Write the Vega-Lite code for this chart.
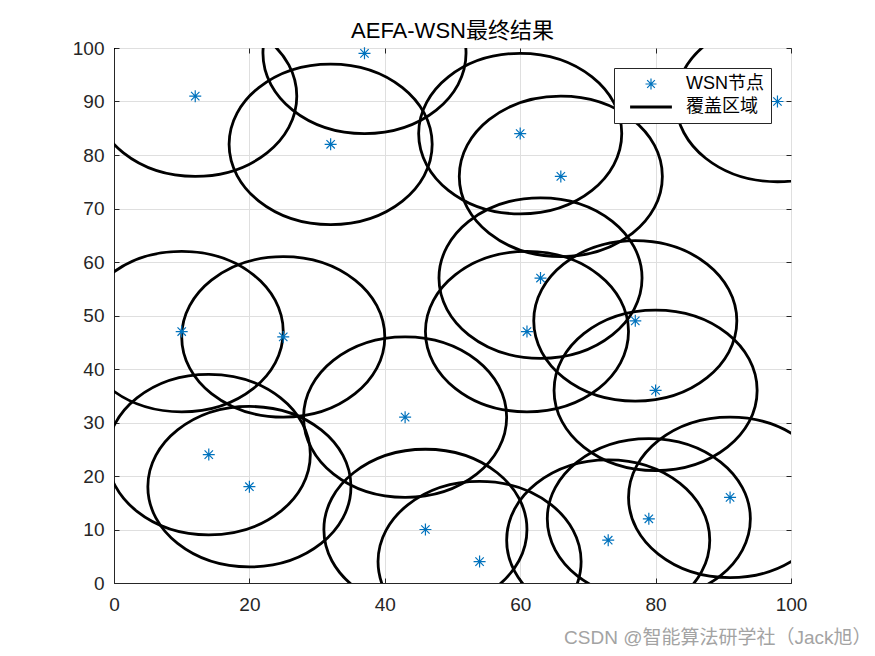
{
  "$schema": "https://vega.github.io/schema/vega-lite/v6.json",
  "autosize": {"type": "none"},
  "padding": {"left": 114, "top": 48, "right": 84, "bottom": 73},
  "width": 677,
  "height": 535,
  "background": "white",
  "title": {
    "text": "AEFA-WSN最终结果",
    "font": "Liberation Sans, Noto Sans CJK SC",
    "fontSize": 22,
    "fontWeight": "normal",
    "color": "#000000",
    "frame": "group",
    "anchor": "middle",
    "baseline": "alphabetic",
    "offset": 10,
    "dy": 31
  },
  "data": {
    "values": [
      {"x": 12, "y": 91}, {"x": 37, "y": 99}, {"x": 32, "y": 82}, {"x": 60, "y": 84},
      {"x": 66, "y": 76}, {"x": 98, "y": 90}, {"x": 10, "y": 47}, {"x": 25, "y": 46},
      {"x": 63, "y": 57}, {"x": 61, "y": 47}, {"x": 77, "y": 49}, {"x": 80, "y": 36},
      {"x": 43, "y": 31}, {"x": 14, "y": 24}, {"x": 20, "y": 18}, {"x": 46, "y": 10},
      {"x": 54, "y": 4}, {"x": 73, "y": 8}, {"x": 79, "y": 12}, {"x": 91, "y": 16}
    ]
  },
  "layer": [
    {
      "mark": {
        "type": "point",
        "shape": "M -1 0 A 1 0.7903 0 1 1 1 0 A 1 0.7903 0 1 1 -1 0 Z",
        "size": 41244,
        "filled": false,
        "strokeWidth": 2.8,
        "opacity": 1,
        "clip": true
      },
      "encoding": {
        "x": {
          "field": "x", "type": "quantitative",
          "scale": {"domain": [0, 100], "nice": false, "zero": false},
          "axis": {
            "values": [0, 20, 40, 60, 80, 100],
            "grid": true,
            "tickSize": -5,
            "labelPadding": 17,
            "labelFlush": false,
            "labelOverlap": false,
            "title": "CSDN @智能算法研学社（Jack旭）",
            "titleX": 757,
            "titleY": 54,
            "titleAlign": "right",
            "titleBaseline": "middle",
            "titleColor": "#a3a3a3",
            "titleFontSize": 19,
            "titleFontWeight": "normal",
            "titleFont": "Liberation Sans, Noto Sans CJK SC"
          }
        },
        "y": {
          "field": "y", "type": "quantitative",
          "scale": {"domain": [0, 100], "nice": false, "zero": false},
          "axis": {
            "values": [0, 10, 20, 30, 40, 50, 60, 70, 80, 90, 100],
            "grid": true,
            "tickSize": -5,
            "labelPadding": 15,
            "labelFlush": false,
            "labelOverlap": false,
            "title": null
          }
        },
        "color": {
          "datum": "覆盖区域", "type": "nominal",
          "scale": {"domain": ["WSN节点", "覆盖区域"], "range": ["#0072BD", "#000000"]}
        }
      }
    },
    {
      "mark": {
        "type": "point",
        "filled": false,
        "size": 144,
        "opacity": 1
      },
      "encoding": {
        "x": {
          "field": "x", "type": "quantitative",
          "scale": {"domain": [0, 100], "nice": false, "zero": false},
          "axis": {"orient": "top", "values": [0, 20, 40, 60, 80, 100], "labels": false, "grid": false, "domain": false, "tickSize": -5, "title": null}
        },
        "y": {
          "field": "y", "type": "quantitative",
          "scale": {"domain": [0, 100], "nice": false, "zero": false},
          "axis": {"orient": "right", "values": [0, 10, 20, 30, 40, 50, 60, 70, 80, 90, 100], "labels": false, "grid": false, "domain": false, "tickSize": -5, "title": null}
        },
        "shape": {
          "datum": "WSN节点", "type": "nominal",
          "scale": {
            "domain": ["WSN节点", "覆盖区域"],
            "range": ["M -1 0 L 1 0 M 0 -1 L 0 1 M -0.7 -0.7 L 0.7 0.7 M -0.7 0.7 L 0.7 -0.7", "M -3.8 0 L 3.8 0"]
          }
        },
        "strokeWidth": {
          "datum": "WSN节点", "type": "ordinal",
          "scale": {"domain": ["WSN节点", "覆盖区域"], "range": [1.2, 2.8]}
        },
        "color": {"datum": "WSN节点", "type": "nominal"}
      }
    }
  ],
  "resolve": {"axis": {"x": "independent", "y": "independent"}},
  "config": {
    "view": {"stroke": "#262626", "strokeWidth": 1},
    "legend": {
      "title": null,
      "orient": "none",
      "legendX": 500,
      "legendY": 20,
      "strokeColor": "#262626",
      "fillColor": "#ffffff",
      "padding": 7,
      "symbolOffset": 21,
      "labelOffset": 26,
      "rowPadding": 5,
      "symbolSize": 121,
      "labelFontSize": 18,
      "labelFont": "Liberation Sans, Noto Sans CJK SC",
      "labelColor": "#000000"
    },
    "axis": {
      "domainColor": "#262626",
      "domainWidth": 1,
      "tickColor": "#262626",
      "tickWidth": 1,
      "gridColor": "#dfdfdf",
      "gridWidth": 1,
      "gridOpacity": 1,
      "labelFont": "Liberation Sans, Noto Sans CJK SC",
      "labelFontSize": 19,
      "labelColor": "#262626"
    }
  }
}
